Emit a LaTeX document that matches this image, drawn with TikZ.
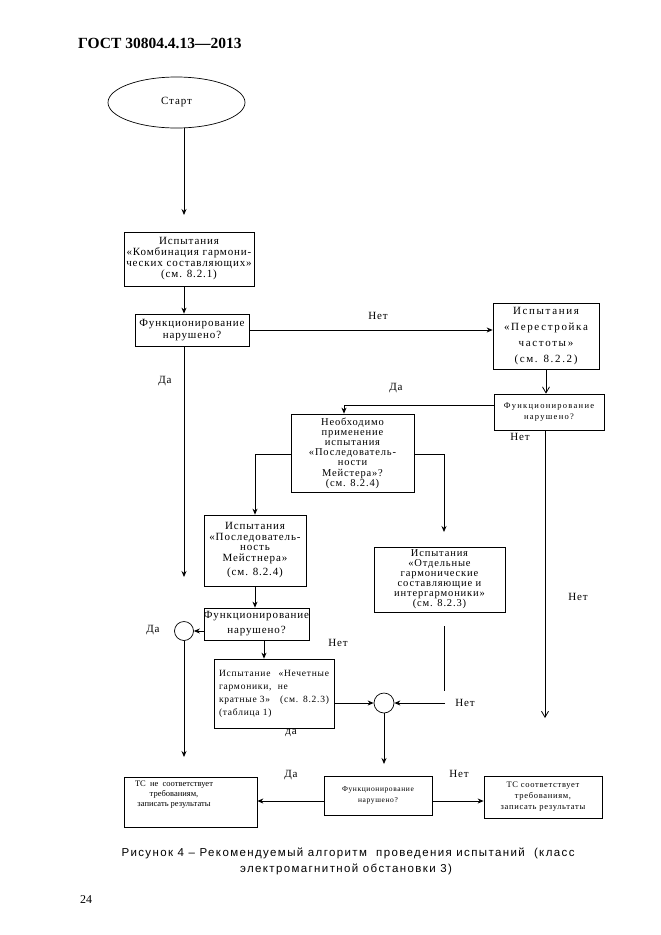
\documentclass[tikz,border=0pt]{standalone}
\usepackage{fontspec}
\setmainfont{Liberation Serif}
\newfontfamily\boxfont[LetterSpace=8]{Liberation Serif}
\newfontfamily\wboxfont[LetterSpace=15]{Liberation Serif}
\newfontfamily\plainfont{Liberation Serif}
\newfontfamily\capfont[LetterSpace=12]{Liberation Sans}
\usetikzlibrary{arrows.meta,shapes.geometric}
\begin{document}
\begin{tikzpicture}[x=1pt,y=-1pt,
  box/.style={draw, line width=0.7pt, inner sep=0pt, align=center, font=\boxfont\fontsize{11}{11}\selectfont},
  arr/.style={-{Stealth[length=6pt,width=5pt]}, line width=0.8pt},
  oarr/.style={-{Straight Barb[length=6pt,width=7pt]}, line width=0.8pt},
  lbl/.style={font=\boxfont\fontsize{11}{12}\selectfont, inner sep=0pt},
  circ/.style={draw, circle, line width=0.7pt, inner sep=0pt},
]
\useasboundingbox (0,0) rectangle (661,935);
\node[font=\bfseries\fontsize{15.5}{17}\selectfont, anchor=west, inner sep=0pt] (title) at (78,43) {ГОСТ 30804.4.13—2013};

\node[draw, ellipse, line width=0.7pt, minimum width=137pt, minimum height=51pt, inner sep=0pt, font=\boxfont\fontsize{11}{12}\selectfont] (start) at (176.5,102.5) {\raisebox{4pt}{Старт}};

\node[box, minimum width=130pt, minimum height=54pt] (box1) at (189,259) {Испытания\\«Комбинация гармони-\\ческих составляющих»\\(см. 8.2.1)};
\node[box, minimum width=114pt, minimum height=32pt, font=\boxfont\fontsize{11}{12}\selectfont] (dec1) at (192,330) {Функционирование\\нарушено?};
\node[box, minimum width=106pt, minimum height=66pt, font=\wboxfont\fontsize{11}{16}\selectfont] (box2) at (546,336) {Испытания\\«Перестройка\\частоты»\\(см. 8.2.2)};
\node[box, minimum width=110pt, minimum height=36pt, font=\wboxfont\fontsize{8.5}{11}\selectfont] (dec2) at (549,412) {Функционирование\\нарушено?};
\node[box, minimum width=123pt, minimum height=78pt, font=\boxfont\fontsize{10.5}{10.2}\selectfont] (box3) at (352.5,453) {Необходимо\\применение\\испытания\\«Последователь-\\ности\\Мейстера»?\\(см. 8.2.4)};
\node[box, minimum width=102pt, minimum height=71pt, font=\boxfont\fontsize{11}{10.5}\selectfont] (box4) at (255,550.5) {Испытания\\«Последователь-\\ность\\Мейстнера»\\[4pt](см. 8.2.4)};
\node[box, minimum width=131pt, minimum height=65pt, font=\boxfont\fontsize{10.5}{10}\selectfont] (box5) at (439.5,579.5) {Испытания\\«Отдельные\\гармонические\\составляющие и\\интергармоники»\\(см. 8.2.3)};
\node[box, minimum width=105pt, minimum height=32pt, font=\boxfont\fontsize{11}{15}\selectfont] (dec3) at (256.5,624) {Функционирование\\нарушено?};
\node[circ, minimum size=19pt] (c1) at (184,631) {};
\node[box, minimum width=120pt, minimum height=69pt, text width=110pt, align=left, font=\boxfont\fontsize{9.5}{13}\selectfont] (box6) at (274,693.5) {Испытание\hfill«Нечетные\\гармоники, \ не\\кратные 3»\hfill(см. 8.2.3)\\(таблица 1)};
\node[circ, minimum size=20pt] (c2) at (384,703) {};
\node[box, minimum width=108pt, minimum height=39pt, font=\boxfont\fontsize{7.5}{11}\selectfont] (dec4) at (378,795.5) {Функционирование\\нарушено?};
\node[box, minimum width=133pt, minimum height=50pt] (box7) at (190.5,802) {};
\node[align=center, inner sep=0pt, font=\plainfont\fontsize{8.5}{10}\selectfont] (box7t) at (174,795) {ТС \ не \ соответствует\\требованиям,\\записать результаты};
\node[box, minimum width=118pt, minimum height=42pt, font=\boxfont\fontsize{8.5}{11}\selectfont] (box8) at (543,797) {ТС соответствует\\требованиям,\\записать результаты};

% connectors
\coordinate (e1) at (184,215);
\draw[arr] (start.south -| e1) -- (e1);
\draw[arr] (box1.south -| e1) -- (dec1.north -| e1);
\draw[arr] (dec1.east) -- (dec1.east -| box2.west);
\draw[oarr] (box2.south) -- (box2.south |- dec2.north);
\coordinate (k1) at (344,405);
\draw[arr] (dec2.west |- k1) -- (k1) -- (k1 |- box3.north);
\coordinate (e2) at (545,718);
\draw[oarr] (dec2.south -| e2) -- (e2);
\coordinate (k2) at (255,454);
\draw[arr] (box3.west |- k2) -- (k2) -- (k2 |- box4.north);
\coordinate (k3) at (444,454);
\coordinate (e3) at (444,532);
\draw[arr] (box3.east |- k3) -- (k3) -- (e3);
\draw[arr] (box4.south) -- (box4.south |- dec3.north);
\draw[arr] (dec3.west |- c1) -- (c1.east);
\coordinate (e4) at (184,577);
\draw[arr] (dec1.south -| e4) -- (e4);
\coordinate (e5) at (184,757);
\draw[arr] (c1.south) -- (e5);
\coordinate (k4) at (264,640);
\draw[arr] (dec3.south -| k4) -- (box6.north -| k4);
\draw[arr] (box6.east |- c2) -- (c2.west);
\coordinate (v1) at (444,626);
\coordinate (v2) at (444,691);
\draw[line width=0.8pt] (v1) -- (v2);
\coordinate (k5) at (445,703);
\draw[arr] (k5) -- (c2.east);
\coordinate (e6) at (384,764);
\draw[arr] (c2.south) -- (e6);
\coordinate (k6) at (0,801);
\draw[arr] (dec4.west |- k6) -- (box7.east |- k6);
\draw[arr] (dec4.east |- k6) -- (box8.west |- k6);

% labels
\node[lbl] (l1) at (378,316) {Нет};
\node[lbl] (l2) at (396,388) {Да};
\node[lbl] (l3) at (520,437) {Нет};
\node[lbl] (l4) at (578,597) {Нет};
\node[lbl] (l5) at (165,381) {Да};
\node[lbl] (l6) at (153,630) {Да};
\node[lbl] (l7) at (338,643) {Нет};
\node[lbl] (l8) at (291,733) {да};
\node[lbl] (l9) at (465,703) {Нет};
\node[lbl] (l10) at (291,775) {Да};
\node[lbl] (l11) at (459,774) {Нет};

% caption
\node[font=\capfont\fontsize{11.5}{13}\selectfont, inner sep=0pt] (cap1) at (348,853) {Рисунок 4 – Рекомендуемый алгоритм \ проведения испытаний \ (класс};
\node[font=\capfont\fontsize{11.5}{13}\selectfont, inner sep=0pt] (cap2) at (346,869) {электромагнитной обстановки 3)};
\node[font=\plainfont\fontsize{12}{14}\selectfont, inner sep=0pt] (page) at (86,900) {24};
\end{tikzpicture}
\end{document}
